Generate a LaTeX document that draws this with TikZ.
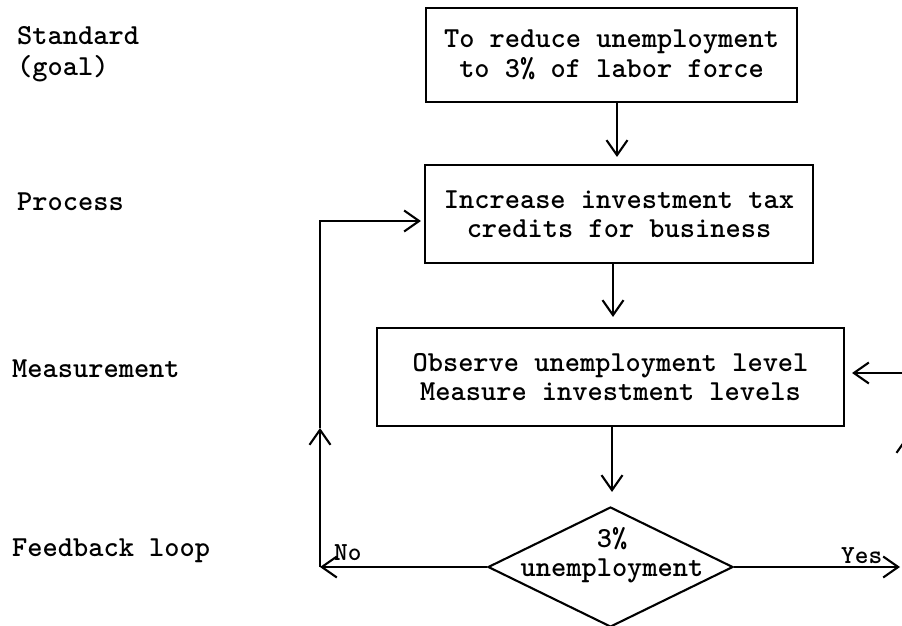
\documentclass[tikz,border=0pt]{standalone}
\usetikzlibrary{arrows.meta,shapes.geometric}
\begin{document}
\begin{tikzpicture}[x=1pt,y=-1pt,
  every node/.style={font=\fontsize{29}{29.5}\selectfont\ttfamily\bfseries, inner sep=0pt},
  box/.style={draw, line width=2.1pt, align=center},
  arr/.style={line width=2.1pt, -{Straight Barb[length=15pt,width=21pt]}},
  side/.style={anchor=base west},
  yn/.style={font=\fontsize{26}{26}\selectfont\ttfamily\bfseries, anchor=base west}]

\useasboundingbox (0,0) rectangle (902,626);

% row labels
\node[side] (lstd)  at (17,45)  {Standard};
\node[side] (lgoal) at (17,75)  {(goal)};
\node[side] (lproc) at (17,210) {Process};
\node[side] (lmeas) at (12,377) {Measurement};
\node[side] (lfb)   at (12,556) {Feedback loop};

% flow boxes
\node[box, minimum width=371pt, minimum height=94pt] (goal) at (611.5,55)
  {To reduce unemployment\\to 3\% of labor force};
\node[box, minimum width=388pt, minimum height=98pt] (proc) at (619,214)
  {Increase investment tax\\credits for business};
\node[box, minimum width=467pt, minimum height=98pt] (meas) at (610.5,377)
  {Observe unemployment level\\Measure investment levels};
\node[draw, diamond, line width=2.1pt, minimum width=245pt, minimum height=120pt] (test) at (610.5,567) {};
\node[align=center] (testtext) at (612,555) {3\%\\unemployment};

% main flow
\draw[arr, shorten >=7pt]  ([xshift=5.5pt]goal.south) -- ([xshift=5.5pt]goal.south |- proc.north);
\draw[arr, shorten >=10pt] ([xshift=-6pt]proc.south) -- ([xshift=-6pt]proc.south |- meas.north);
\draw[arr, shorten >=14pt] ([xshift=1.5pt]meas.south) -- ([xshift=1.5pt]meas.south |- test.north);

% "No" branch back to the process
\coordinate (nocorner) at (320,567);
\coordinate (nomid) at (320,428);
\draw[arr] (test.west) -- (nocorner);
\draw[arr] (nocorner) -- (nomid);
\draw[arr, shorten >=3pt] (nomid) |- ([yshift=-7pt]proc.west);
\node[yn] (nolab) at (334,560) {No};

% "Yes" branch and the return to measurement
\coordinate (yesend) at (900,567);
\draw[arr] (test.east) -- (yesend);
\node[yn] (yeslab) at (841,563) {Yes};
\coordinate (rcorner) at (907,567);
\coordinate (rmid) at (907,436);
\draw[arr] (rcorner) -- (rmid);
\draw[arr, shorten >=7pt] (rmid) |- ([yshift=4pt]meas.east);

\end{tikzpicture}
\end{document}
